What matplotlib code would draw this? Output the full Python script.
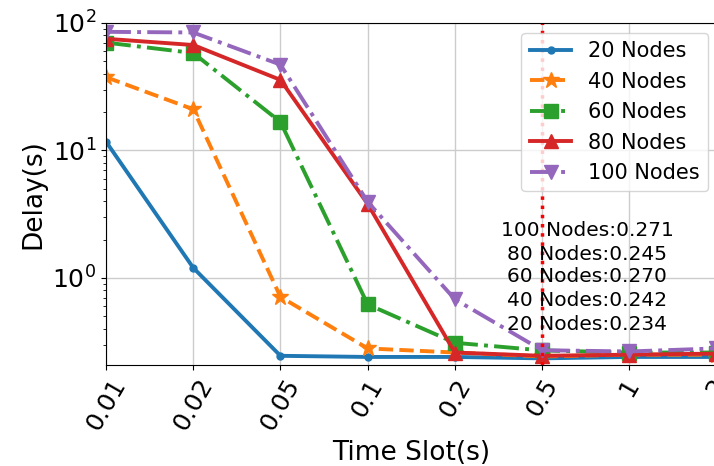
import matplotlib
matplotlib.use("Agg")
import matplotlib.pyplot as plt
import numpy as np

time_slots = ["0.01", "0.02", "0.05", "0.1", "0.2", "0.5", "1", "2"]
nodes_20 = [11.7, 1.2, 0.245, 0.24, 0.24, 0.234, 0.24, 0.24]
nodes_40 = [37.5, 21.0, 0.71, 0.28, 0.26, 0.242, 0.25, 0.25]
nodes_60 = [70.0, 58.0, 16.7, 0.62, 0.31, 0.270, 0.26, 0.26]
nodes_80 = [75.0, 67.0, 35.7, 3.8, 0.26, 0.245, 0.25, 0.255]
nodes_100 = [85.0, 84.0, 47.0, 3.95, 0.68, 0.271, 0.265, 0.28]
labels = ["20 Nodes", "40 Nodes", "60 Nodes", "80 Nodes", "100 Nodes"]
annot_vals = ["0.271", "0.245", "0.270", "0.242", "0.234"]
annot_names = ["100 Nodes", "80 Nodes", "60 Nodes", "40 Nodes", "20 Nodes"]

fig = plt.figure(figsize=(7.14, 4.66), dpi=100)
ax = fig.add_axes([0.1485, 0.217, 0.855, 0.734])

x = np.arange(len(time_slots))
series = [nodes_20, nodes_40, nodes_60, nodes_80, nodes_100]
styles = [
    dict(color="#1f77b4", ls="-", marker="o", ms=5),
    dict(color="#ff7f0e", ls="--", marker="*", ms=12),
    dict(color="#2ca02c", ls="-.", marker="s", ms=10),
    dict(color="#d62728", ls="-", marker="^", ms=10),
    dict(color="#9467bd", ls="-.", marker="v", ms=10),
]
for vals, lab, st in zip(series, labels, styles):
    ax.plot(x, vals, label=lab, lw=2.8, **st)

ax.axvline(5, color="red", ls=":", lw=2.5)

ax.set_yscale("log")
ax.set_ylim(0.208, 100)
ax.set_xlim(0, 7)
ax.set_xticks(x)
ax.set_xticklabels(time_slots, rotation=60, fontsize=18)
ax.tick_params(axis="y", labelsize=18)
ax.grid(True, which="major", color="#cccccc", lw=1)
ax.set_xlabel("Time Slot(s)", fontsize=19)
ax.set_ylabel("Delay(s)", fontsize=19)

ypix = [230, 254, 277, 300, 325]
for name, val, yp in zip(annot_names, annot_vals, ypix):
    fig.text(587 / 714, 1 - yp / 466, f"{name}:{val}", ha="center", va="center", fontsize=14.5)

fig.legend(loc="upper right", bbox_to_anchor=(708 / 714, 1 - 33 / 466), fontsize=15,
           framealpha=0.8, borderaxespad=0)

fig.savefig("out.png", dpi=100)
